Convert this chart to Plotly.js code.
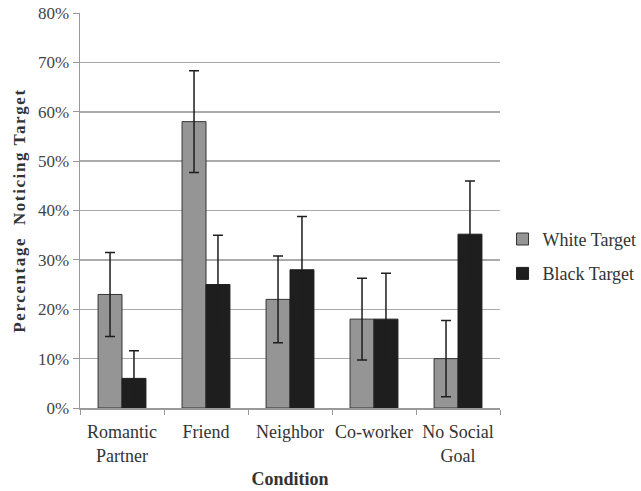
<!DOCTYPE html>
<html><head><meta charset="utf-8">
<script src="https://cdn.plot.ly/plotly-3.0.1.min.js"></script>
<style>body{margin:0;background:#fff}#chart{width:641px;height:491px}
.ytitle{letter-spacing:1.6px}</style>
</head><body><div id="chart"></div>
<script>
const categories = ["Romantic<br>Partner", "Friend", "Neighbor", "Co-worker", "No Social<br>Goal"];
const whiteValues = [23, 58, 22, 18, 10];
const whiteErrors = [8.5, 10.3, 8.8, 8.3, 7.7];
const blackValues = [6, 25, 28, 18, 35.2];
const blackErrors = [5.6, 10, 10.8, 9.3, 10.8];
const yTicks = [0, 10, 20, 30, 40, 50, 60, 70, 80];

const font = "Liberation Serif, Times New Roman, serif";
const errStyle = {type: "data", visible: true, color: "#1e1e1e", thickness: 1.5, width: 5};

const traces = [
  {type: "bar", name: "White Target", x: categories, y: whiteValues, legendgroup: "w",
   marker: {color: "#959595", line: {color: "#333", width: 1}},
   error_y: Object.assign({array: whiteErrors}, errStyle)},
  {type: "bar", name: "Black Target", x: categories, y: blackValues, legendgroup: "b",
   marker: {color: "#1e1e1e", line: {color: "#1e1e1e", width: 1}},
   error_y: Object.assign({array: blackErrors}, errStyle)}
];

const layout = {
  width: 641, height: 491,
  margin: {l: 80, r: 141, t: 13, b: 83},
  paper_bgcolor: "#fff", plot_bgcolor: "#fff",
  font: {family: font, size: 17, color: "#333"},
  barmode: "group", bargap: 0.43, bargroupgap: 0,
  showlegend: true,
  legend: {xref: "container", yref: "container", x: 0.784, xanchor: "left", y: 0.478, yanchor: "middle",
           font: {family: font, size: 18, color: "#333"}, tracegroupgap: 8,
           itemwidth: 30, borderwidth: 0},
  xaxis: {
    type: "category", showline: true, linecolor: "#999", linewidth: 1.5,
    ticks: "outside", tickson: "boundaries", ticklen: 5, tickcolor: "#999",
    tickangle: 0, automargin: false, ticklabelstandoff: 7,
    showgrid: false, tickfont: {family: font, size: 18, color: "#333"},
    title: {text: "<b>Condition</b>", font: {family: font, size: 18, color: "#333"}, standoff: 8}
  },
  yaxis: {
    range: [0, 80], tickvals: yTicks, ticktext: yTicks.map(v => v + "%"),
    showline: true, linecolor: "#999", linewidth: 1.5, automargin: false,
    ticks: "outside", ticklen: 6, tickcolor: "#999",
    showgrid: true, gridcolor: "#aaa", gridwidth: 1.5, zeroline: false,
    tickfont: {family: font, size: 17, color: "#444"},
    title: {text: "<b>Percentage  Noticing Target</b>", font: {family: font, size: 17, color: "#333"}, standoff: 8}
  }
};

Plotly.newPlot("chart", traces, layout, {displayModeBar: false, staticPlot: true});
</script></body></html>
